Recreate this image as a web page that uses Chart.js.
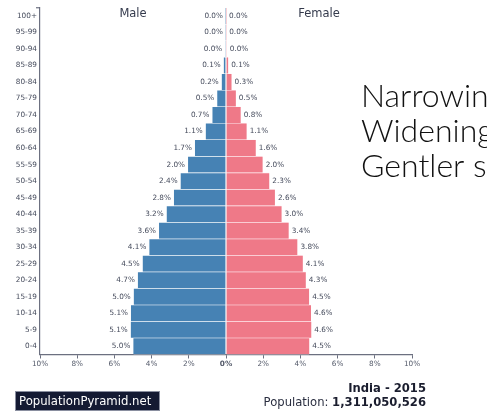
<!DOCTYPE html>
<html>
<head>
<meta charset="utf-8">
<script src="https://cdn.jsdelivr.net/npm/chart.js"></script>
<style>
  body { margin: 0; background: #fff; }
  #wrap { width: 487px; height: 418px; }
</style>
</head>
<body>
<div id="wrap"><canvas id="pyramid" width="487" height="418"></canvas></div>
<script>
// age groups, top to bottom
const ageGroups = ['100+', '95-99', '90-94', '85-89', '80-84', '75-79', '70-74', '65-69', '60-64', '55-59',
  '50-54', '45-49', '40-44', '35-39', '30-34', '25-29', '20-24', '15-19', '10-14', '5-9', '0-4'];
// share of total population, %
const male = [0.004, 0.01, 0.04, 0.12, 0.23, 0.47, 0.73, 1.09, 1.67, 2.04,
  2.44, 2.80, 3.19, 3.60, 4.12, 4.48, 4.74, 4.96, 5.11, 5.12, 4.98];
const female = [0.004, 0.01, 0.04, 0.12, 0.30, 0.53, 0.79, 1.11, 1.60, 1.97,
  2.33, 2.63, 2.99, 3.37, 3.84, 4.13, 4.29, 4.47, 4.57, 4.59, 4.48];
const xTickValues = [-10, -8, -6, -4, -2, 0, 2, 4, 6, 8, 10];
const sideTitles = ['Male', 'Female'];
const notes = ['Narrowing base', 'Widening top', 'Gentler slope'];
const country = 'India - 2015';
const population = '1,311,050,526';

const labelFont = '7.3px "DejaVu Sans"';
const textColor = '#454b5c';
const axisColor = '#6c7080';

const extras = {
  id: 'extras',
  afterDatasetsDraw(chart) {
    const ctx = chart.ctx;
    const x = chart.scales.x;
    const area = chart.chartArea;
    ctx.save();
    // small cap at the top of the age axis
    ctx.strokeStyle = axisColor;
    ctx.lineWidth = 1.2;
    ctx.beginPath();
    ctx.moveTo(area.left - 4, area.top);
    ctx.lineTo(area.left, area.top);
    ctx.stroke();

    // value labels at bar ends
    ctx.font = labelFont;
    ctx.fillStyle = textColor;
    ctx.textBaseline = 'middle';
    chart.data.datasets.forEach((ds, di) => {
      const src = di === 0 ? male : female;
      chart.getDatasetMeta(di).data.forEach((bar, i) => {
        const txt = src[i].toFixed(1) + '%';
        if (di === 0) {
          ctx.textAlign = 'right';
          ctx.fillText(txt, bar.x - 3, bar.y);
        } else {
          ctx.textAlign = 'left';
          ctx.fillText(txt, bar.x + 3, bar.y);
        }
      });
    });
    // Male / Female headers
    ctx.font = '11.5px "DejaVu Sans"';
    ctx.fillStyle = '#343a4c';
    ctx.textAlign = 'center';
    ctx.textBaseline = 'alphabetic';
    ctx.fillText(sideTitles[0], x.getPixelForValue(-5), 17);
    ctx.fillText(sideTitles[1], x.getPixelForValue(5), 17);

    // big annotation text on the right
    ctx.font = '300 32px "Lato"';
    ctx.fillStyle = '#111';
    ctx.textAlign = 'left';
    notes.forEach((t, i) => ctx.fillText(t, 361, 107 + i * 35));

    // footer
    ctx.fillStyle = '#141a33';
    ctx.fillRect(15, 391, 145, 20);
    ctx.strokeStyle = '#8a8fa0';
    ctx.lineWidth = 1;
    ctx.strokeRect(15.5, 391.5, 144, 19);
    ctx.fillStyle = '#fff';
    ctx.font = '11.7px "DejaVu Sans"';
    ctx.textBaseline = 'middle';
    ctx.fillText('PopulationPyramid.net', 19, 401.5);

    ctx.textAlign = 'right';
    ctx.textBaseline = 'alphabetic';
    ctx.fillStyle = '#1a1d2e';
    ctx.font = 'bold 11.6px "DejaVu Sans"';
    ctx.fillText(country, 426, 392);
    const numW = ctx.measureText(population).width;
    ctx.fillText(population, 426, 405.5);
    ctx.font = '11.6px "DejaVu Sans"';
    ctx.fillStyle = '#2a2e40';
    ctx.fillText('Population: ', 426 - numW, 405.5);
    ctx.restore();
  }
};

new Chart(document.getElementById('pyramid'), {
  type: 'bar',
  data: {
    labels: ageGroups,
    datasets: [
      {
        label: 'Male',
        data: male.map(v => -v),
        backgroundColor: '#4682b4',
        borderColor: 'rgba(255,255,255,0.85)',
        borderWidth: { top: 0.6, bottom: 0.6, left: 0, right: 0 },
        borderSkipped: false,
        barPercentage: 1,
        categoryPercentage: 1
      },
      {
        label: 'Female',
        data: female,
        backgroundColor: '#ef7988',
        borderColor: 'rgba(255,235,238,0.85)',
        borderWidth: { top: 0.6, bottom: 0.6, left: 0, right: 0 },
        borderSkipped: false,
        barPercentage: 1,
        categoryPercentage: 1
      }
    ]
  },
  options: {
    indexAxis: 'y',
    responsive: false,
    animation: false,
    layout: { padding: { left: 0, top: 7.75, right: 75, bottom: 43.5 } },
    plugins: { legend: { display: false }, tooltip: { enabled: false } },
    scales: {
      x: {
        type: 'linear',
        min: -10,
        max: 10,
        stacked: true,
        afterBuildTicks: s => { s.ticks = xTickValues.map(v => ({ value: v })); },
        afterFit: s => { s.height = 20; },
        ticks: {
          callback: v => Math.abs(v) + '%',
          font: ctx => ({ family: 'DejaVu Sans', size: 7.3, weight: ctx.tick && ctx.tick.value === 0 ? 'bold' : 'normal' }),
          color: '#555b6b',
          padding: 1,
          maxRotation: 0,
          autoSkip: false
        },
        grid: { display: true, drawOnChartArea: false, tickLength: 4, color: axisColor, lineWidth: 1 },
        border: { display: true, color: axisColor, width: 1.2 }
      },
      y: {
        type: 'category',
        stacked: true,
        afterFit: s => { s.width = 40; },
        ticks: {
          font: { family: 'DejaVu Sans', size: 7.3 },
          color: textColor,
          padding: 3,
          autoSkip: false
        },
        grid: { display: false, drawTicks: false },
        border: { display: true, color: axisColor, width: 1.2 }
      }
    }
  },
  plugins: [extras]
});
</script>
</body>
</html>
